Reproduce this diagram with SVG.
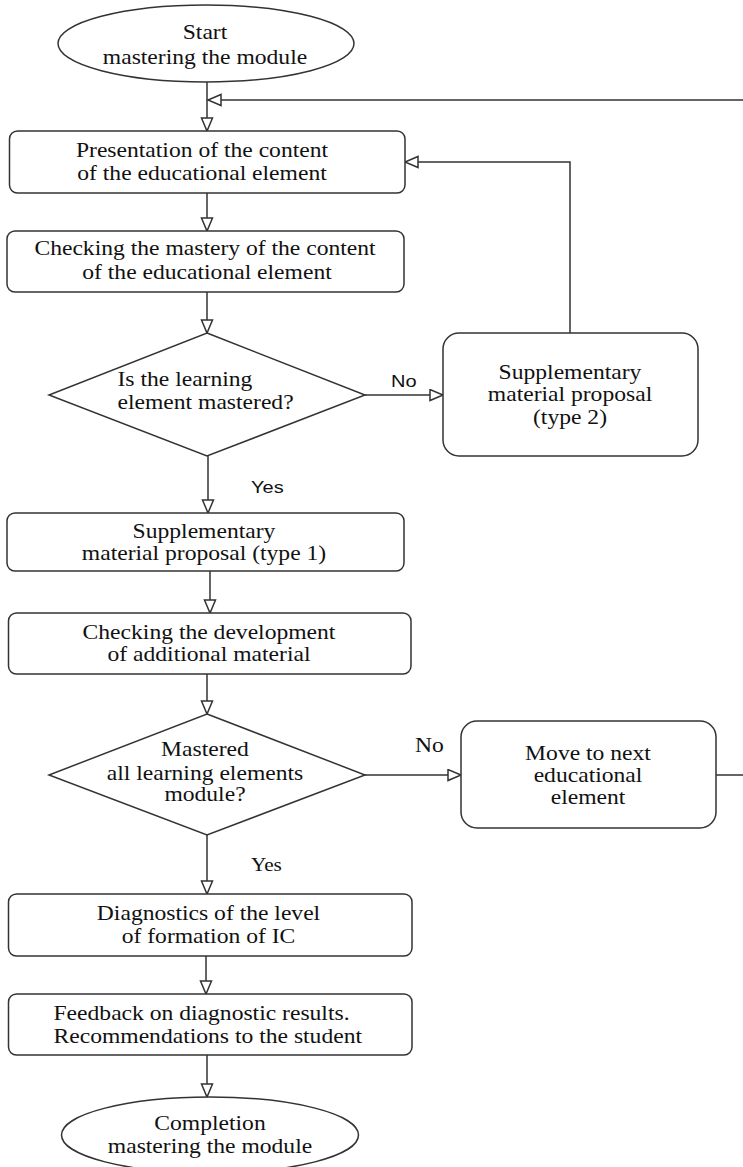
<svg xmlns="http://www.w3.org/2000/svg" width="743" height="1167" viewBox="0 0 743 1167">
<style>
.shape{fill:#fff;stroke:#333;stroke-width:1.5}
.conn{fill:none;stroke:#333;stroke-width:1.5;marker-end:url(#arr)}
.t{font-family:"Liberation Serif","Times New Roman",serif;font-size:20px;fill:#111;text-anchor:middle}
.tl{font-family:"Liberation Serif","Times New Roman",serif;font-size:20px;fill:#111;text-anchor:start}
.s{font-family:"Liberation Sans",Arial,sans-serif;font-size:16px;fill:#111;text-anchor:start}
</style>
<defs>
<marker id="arr" markerUnits="userSpaceOnUse" markerWidth="16" markerHeight="14" refX="13" refY="5.5" orient="auto" viewBox="-1 -1 16 14">
<path d="M0,0 L13,5.5 L0,11 Z" fill="#fff" stroke="#333" stroke-width="1.5"/>
</marker>
</defs>
<rect width="743" height="1167" fill="#fff"/>
<g id="connectors">
<path class="conn" d="M207,82 V131"/>
<path class="conn" d="M716,775 H746 V100 H208"/>
<path class="conn" d="M207,193 V231"/>
<path class="conn" d="M207,292 V333"/>
<path class="conn" d="M365,395 H443"/>
<path class="conn" d="M570,333 V162 H405"/>
<path class="conn" d="M208,456 V513"/>
<path class="conn" d="M210,571 V613"/>
<path class="conn" d="M207,674 V714"/>
<path class="conn" d="M365,775 H461"/>
<path class="conn" d="M207,835 V894"/>
<path class="conn" d="M206,956 V994"/>
<path class="conn" d="M207,1055 V1097"/>
</g>
<g id="start">
<ellipse class="shape" cx="206" cy="43.5" rx="148" ry="38.5"/>
<text class="t" transform="translate(205,39) scale(1.18,1)">Start</text>
<text class="t" transform="translate(205,64) scale(1.18,1)">mastering the module</text>
</g>
<g id="presentation">
<rect class="shape" x="9.5" y="131" width="395.5" height="62" rx="8"/>
<text class="t" transform="translate(202,157) scale(1.18,1)">Presentation of the content</text>
<text class="t" transform="translate(202,180) scale(1.18,1)">of the educational element</text>
</g>
<g id="checking-mastery">
<rect class="shape" x="7" y="231" width="397" height="61" rx="8"/>
<text class="t" transform="translate(205,255) scale(1.18,1)">Checking the mastery of the content</text>
<text class="t" transform="translate(207,279) scale(1.18,1)">of the educational element</text>
</g>
<g id="decision1">
<polygon class="shape" points="207,333 365,395 207,456 49,395"/>
<text class="tl" transform="translate(117.5,386) scale(1.18,1)">Is the learning</text>
<text class="tl" transform="translate(117.5,409) scale(1.18,1)">element mastered?</text>
</g>
<g id="label-no1"><text class="s" transform="translate(391,387) scale(1.25,1)">No</text></g>
<g id="label-yes1"><text class="s" transform="translate(251,493) scale(1.25,1)">Yes</text></g>
<g id="supp-type2">
<rect class="shape" x="443" y="333" width="255" height="123" rx="16"/>
<text class="t" transform="translate(570,379) scale(1.18,1)">Supplementary</text>
<text class="t" transform="translate(570,401) scale(1.18,1)">material proposal</text>
<text class="t" transform="translate(570,424) scale(1.18,1)">(type 2)</text>
</g>
<g id="supp-type1">
<rect class="shape" x="7" y="513" width="397" height="58" rx="8"/>
<text class="t" transform="translate(204,538) scale(1.18,1)">Supplementary</text>
<text class="t" transform="translate(204,560) scale(1.18,1)">material proposal (type 1)</text>
</g>
<g id="checking-dev">
<rect class="shape" x="8.5" y="613" width="402.5" height="61" rx="8"/>
<text class="t" transform="translate(209,639) scale(1.18,1)">Checking the development</text>
<text class="t" transform="translate(209,661) scale(1.18,1)">of additional material</text>
</g>
<g id="decision2">
<polygon class="shape" points="207,714 365,775 207,835 49,775"/>
<text class="t" transform="translate(205,756) scale(1.18,1)">Mastered</text>
<text class="t" transform="translate(205,780) scale(1.18,1)">all learning elements</text>
<text class="t" transform="translate(205,801) scale(1.18,1)">module?</text>
</g>
<g id="label-no2"><text class="tl" transform="translate(415,752) scale(1.18,1)">No</text></g>
<g id="label-yes2"><text class="tl" style="font-size:18px" transform="translate(251,871) scale(1.18,1)">Yes</text></g>
<g id="next-element">
<rect class="shape" x="461" y="721" width="255" height="107" rx="16"/>
<text class="t" transform="translate(588,760) scale(1.18,1)">Move to next</text>
<text class="t" transform="translate(588,782) scale(1.18,1)">educational</text>
<text class="t" transform="translate(588,804) scale(1.18,1)">element</text>
</g>
<g id="diagnostics">
<rect class="shape" x="8.5" y="894" width="403.5" height="62" rx="8"/>
<text class="t" transform="translate(208.5,920) scale(1.18,1)">Diagnostics of the level</text>
<text class="t" transform="translate(208.5,943) scale(1.18,1)">of formation of IC</text>
</g>
<g id="feedback">
<rect class="shape" x="8.5" y="994" width="403.5" height="61" rx="8"/>
<text class="tl" transform="translate(53.5,1020) scale(1.18,1)">Feedback on diagnostic results.</text>
<text class="tl" transform="translate(53.5,1043) scale(1.18,1)">Recommendations to the student</text>
</g>
<g id="end">
<ellipse class="shape" cx="210" cy="1135" rx="148.5" ry="38"/>
<text class="t" transform="translate(210,1130) scale(1.18,1)">Completion</text>
<text class="t" transform="translate(210,1153) scale(1.18,1)">mastering the module</text>
</g>
</svg>
